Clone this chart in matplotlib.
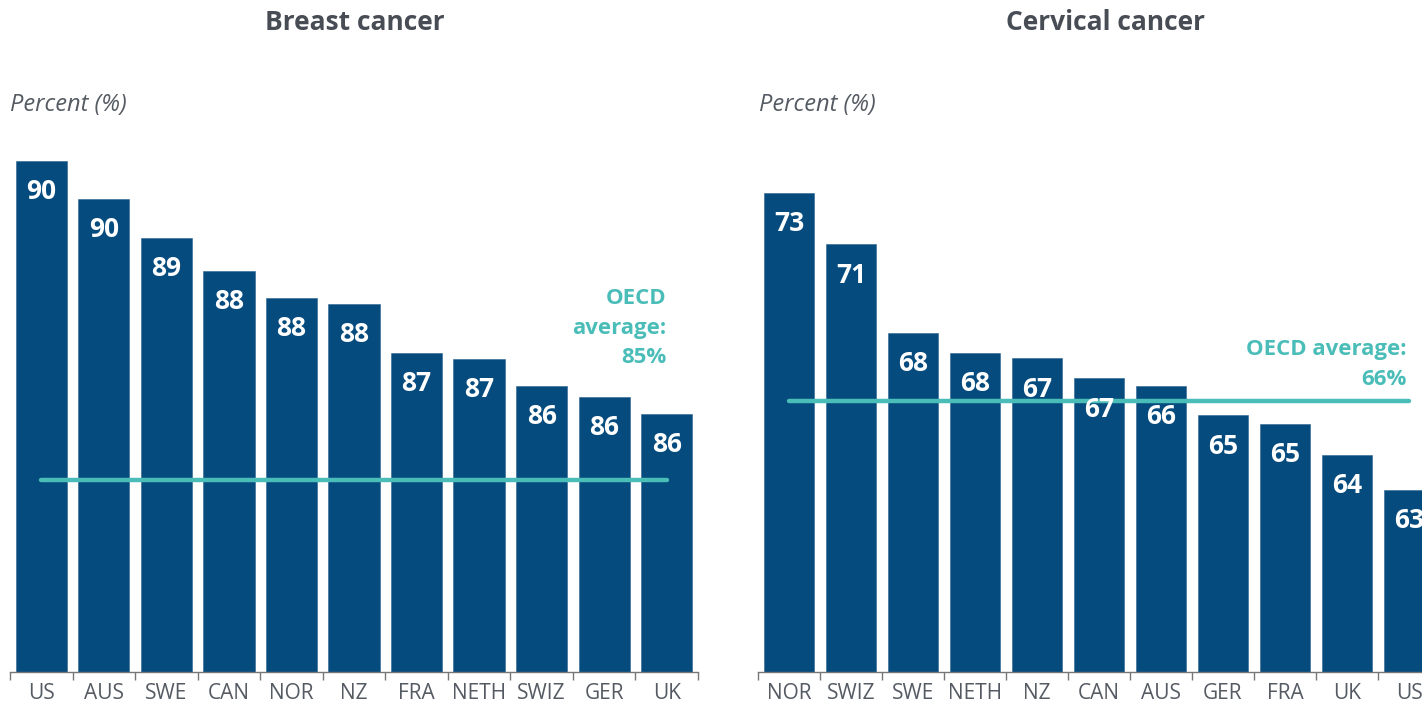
import matplotlib
matplotlib.use("Agg")
import matplotlib.pyplot as plt
import numpy as np

plt.rcParams['font.family'] = ['Open Sans', 'DejaVu Sans']

# ---------- data ----------
breast_countries = ["US", "AUS", "SWE", "CAN", "NOR", "NZ", "FRA", "NETH", "SWIZ", "GER", "UK"]
breast_values = [90.3, 89.6, 88.9, 88.3, 87.8, 87.7, 86.8, 86.7, 86.2, 86.0, 85.7]
breast_labels = ["90", "90", "89", "88", "88", "88", "87", "87", "86", "86", "86"]
breast_oecd = 84.5
breast_oecd_label = "OECD\naverage:\n85%"

cerv_countries = ["NOR", "SWIZ", "SWE", "NETH", "NZ", "CAN", "AUS", "GER", "FRA", "UK", "US"]
cerv_values = [73.2, 71.4, 68.3, 67.6, 67.4, 66.7, 66.45, 65.4, 65.1, 64.0, 62.8]
cerv_labels = ["73", "71", "68", "68", "67", "67", "66", "65", "65", "64", "63"]
cerv_oecd = 65.9
cerv_oecd_label = "OECD average:\n66%"

BLUE = "#064b7e"
TEAL = "#4bbdb8"
GREY = "#555b63"
TITLE = "#474c55"

W, H = 1422, 706
fig = plt.figure(figsize=(W / 100, H / 100), dpi=100)


def px_axes(left, top, right, bottom):
    return fig.add_axes([left / W, 1 - bottom / H, (right - left) / W, (bottom - top) / H])


def panel(ax, countries, values, labels, oecd, ylim):
    x = np.arange(len(countries))
    ax.bar(x, values, width=0.82, color=BLUE, edgecolor="#2d6590", linewidth=0.4,
           zorder=2)
    ax.set_ylim(*ylim)
    ax.set_xlim(-0.5, len(countries) - 0.5)
    for xi, v, lab in zip(x, values, labels):
        ax.annotate(lab, (xi, v), xytext=(0, -22), textcoords="offset points",
                    ha="center", va="center", color="white", fontsize=19,
                    fontweight="bold", zorder=4)
    ax.plot([x[0], x[-1]], [oecd, oecd], color=TEAL, lw=3.2,
            solid_capstyle="round", zorder=3)
    ax.set_xticks(x)
    ax.set_xticklabels(countries, fontsize=15, color=GREY)
    ax.set_xticks(np.arange(-0.5, len(countries)), minor=True)
    ax.tick_params(axis="x", which="major", length=0, pad=8)
    ax.tick_params(axis="x", which="minor", length=6, width=1, color="#777777")
    ax.set_yticks([])
    for s in ["top", "right", "left"]:
        ax.spines[s].set_visible(False)
    ax.spines["bottom"].set_color("#777777")
    ax.spines["bottom"].set_linewidth(1)
    return x


# breast cancer panel
ax1 = px_axes(10, 140, 698, 672)
x1 = panel(ax1, breast_countries, breast_values, breast_labels, breast_oecd,
           (81, 81 + 532 / 55))
ax1.annotate(breast_oecd_label, (x1[-1], breast_oecd), xytext=(0, 80),
             textcoords="offset points", ha="right", va="bottom",
             color=TEAL, fontsize=16, fontweight="bold", linespacing=1.55,
             annotation_clip=False)

# cervical cancer panel (runs off the right edge, like the original)
ax2 = px_axes(758, 140, 1440, 672)
x2 = panel(ax2, cerv_countries, cerv_values, cerv_labels, cerv_oecd,
           (56.4, 56.4 + 532 / 28.5))
ax2.annotate(cerv_oecd_label, (x2[-1], cerv_oecd), xytext=(-2, 8),
             textcoords="offset points", ha="right", va="bottom",
             color=TEAL, fontsize=16, fontweight="bold", linespacing=1.6,
             annotation_clip=False)

# titles and axis captions
fig.text(355 / W, 1 - 22 / H, "Breast cancer", ha="center", va="center",
         fontsize=19, fontweight="bold", color=TITLE)
fig.text(1105 / W, 1 - 22 / H, "Cervical cancer", ha="center", va="center",
         fontsize=19, fontweight="bold", color=TITLE)
fig.text(10 / W, 1 - 105 / H, "Percent (%)", ha="left", va="center",
         fontsize=17, style="italic", color=GREY)
fig.text(759 / W, 1 - 105 / H, "Percent (%)", ha="left", va="center",
         fontsize=17, style="italic", color=GREY)

fig.savefig("out.png", dpi=100)
